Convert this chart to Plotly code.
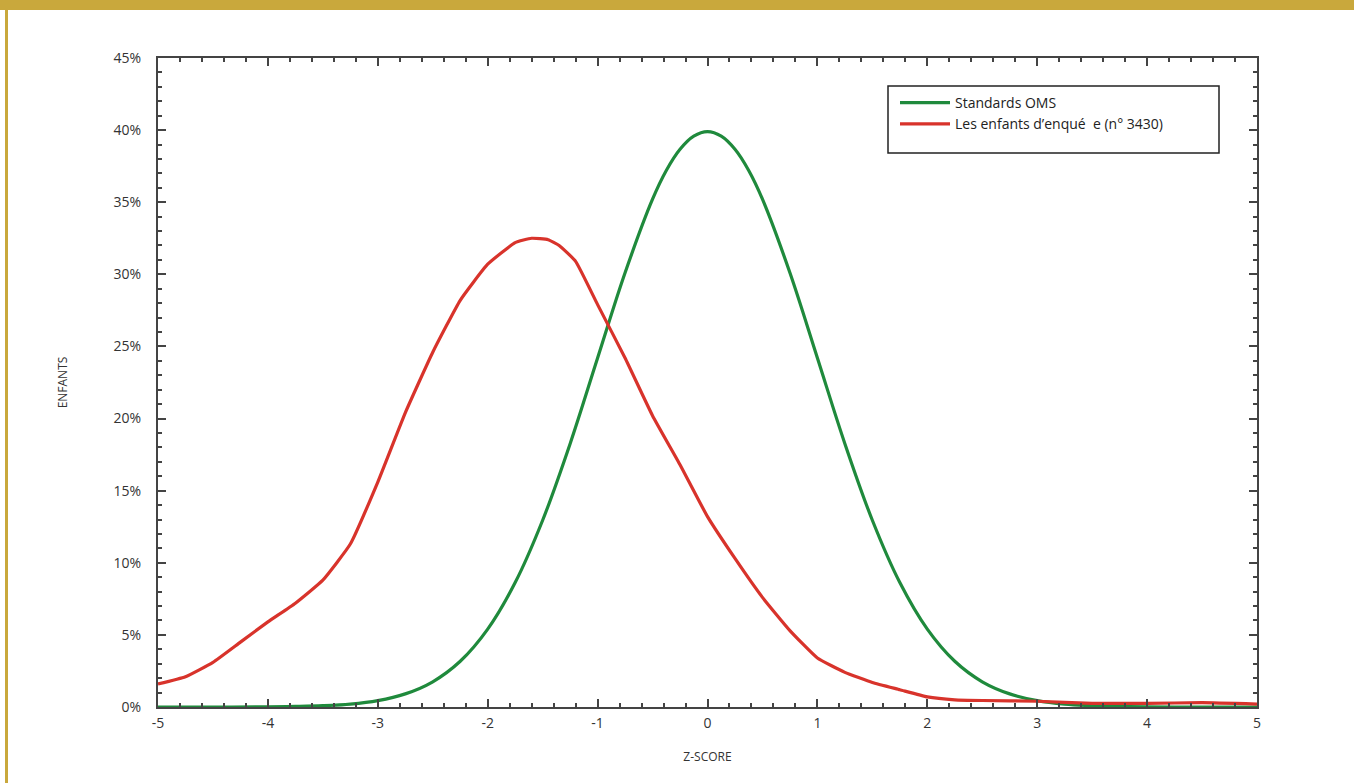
import plotly.graph_objects as go

# Data
z_oms = [-5, -4.5, -4, -3.75, -3.5, -3.25, -3, -2.75, -2.5, -2.25, -2, -1.75, -1.5, -1.25, -1,
         -0.75, -0.5, -0.375, -0.25, -0.125, 0, 0.125, 0.25, 0.375, 0.5, 0.75, 1, 1.25, 1.5,
         1.75, 2, 2.25, 2.5, 2.75, 3, 3.25, 3.5, 4, 4.5, 5]
oms = [0.0, 0.0, 0.01, 0.04, 0.09, 0.2, 0.44, 0.91, 1.75, 3.17, 5.4, 8.63, 12.95, 18.26, 24.2,
       30.11, 35.21, 37.2, 38.67, 39.58, 39.89, 39.58, 38.67, 37.2, 35.21, 30.11, 24.2, 18.26,
       12.95, 8.63, 5.4, 3.17, 1.75, 0.91, 0.44, 0.2, 0.09, 0.01, 0.0, 0.0]

z_enq = [-5, -4.75, -4.5, -4.25, -4, -3.75, -3.5, -3.25, -3, -2.75, -2.5, -2.25, -2, -1.75,
         -1.6, -1.45, -1.35, -1.2, -1, -0.75, -0.5, -0.25, 0, 0.25, 0.5, 0.75, 1, 1.25, 1.5,
         1.75, 2, 2.25, 2.5, 3, 3.5, 4, 4.5, 5]
enq = [1.6, 2.1, 3.1, 4.5, 5.9, 7.2, 8.8, 11.3, 15.6, 20.4, 24.6, 28.2, 30.7, 32.2,
       32.5, 32.4, 32.0, 30.9, 27.9, 24.2, 20.2, 16.8, 13.2, 10.3, 7.6, 5.3, 3.4, 2.4, 1.7,
       1.2, 0.7, 0.5, 0.45, 0.4, 0.25, 0.25, 0.3, 0.2]

names = ["Standards OMS", "Les enfants d’enqué  e (n° 3430)"]
x_ticks = [-5, -4, -3, -2, -1, 0, 1, 2, 3, 4, 5]
y_ticks = [0, 5, 10, 15, 20, 25, 30, 35, 40, 45]
y_labels = [f"{v}%" for v in y_ticks]

W, H = 1354, 783
L, R, T, B = 158, 1257, 58, 707
pw, ph = R - L, B - T

def px(xp):
    return (xp - L) / pw

def py(yp):
    return (B - yp) / ph

font = "Open Sans, Noto Sans, sans-serif"

fig = go.Figure()
fig.add_trace(go.Scatter(x=z_oms, y=oms, mode="lines", name=names[0],
                         line=dict(color="#1f8a3c", width=3.2, shape="spline", smoothing=1.0)))
fig.add_trace(go.Scatter(x=z_enq, y=enq, mode="lines", name=names[1],
                         line=dict(color="#d8332b", width=3.2, shape="spline", smoothing=0.4)))

axis_common = dict(showgrid=False, zeroline=False, showline=True, linecolor="#444",
                   linewidth=2, ticks="inside", tickcolor="#444", tickwidth=2, ticklen=8,
                   mirror="allticks", tickfont=dict(family=font, size=14, color="#333"))

fig.update_xaxes(range=[-5, 5], tickvals=x_ticks, ticktext=[str(v) for v in x_ticks],
                 ticklabelstandoff=2,
                 minor=dict(dtick=0.2, ticks="inside", ticklen=4, tickcolor="#444", tickwidth=1.5),
                 title=dict(text="Z-SCORE", font=dict(family=font, size=12, color="#333"), standoff=22),
                 **axis_common)
fig.update_yaxes(range=[0, 45], tickvals=y_ticks, ticktext=y_labels,
                 ticklabelstandoff=12,
                 minor=dict(dtick=1, ticks="inside", ticklen=4, tickcolor="#444", tickwidth=1.5),
                 title=dict(text="ENFANTS", font=dict(family=font, size=12, color="#333"), standoff=43),
                 **axis_common)

gold = "#c9a83c"
shapes = [
    dict(type="rect", xref="paper", yref="paper", x0=px(0), x1=px(W), y0=py(10), y1=py(0),
         fillcolor=gold, line=dict(width=0), layer="above"),
    dict(type="rect", xref="paper", yref="paper", x0=px(5), x1=px(8), y0=py(H), y1=py(0),
         fillcolor=gold, line=dict(width=0), layer="above"),
    dict(type="rect", xref="paper", yref="paper", x0=px(888), x1=px(1219), y0=py(153), y1=py(86),
         fillcolor="white", line=dict(color="#222", width=1.5), layer="below"),
]

fig.update_layout(
    width=W, height=H,
    margin=dict(l=L, r=W - R, t=T, b=H - B),
    paper_bgcolor="white", plot_bgcolor="white",
    shapes=shapes,
    showlegend=True,
    legend=dict(x=px(895), y=py(87), xanchor="left", yanchor="top",
                bgcolor="rgba(0,0,0,0)", borderwidth=0,
                font=dict(family=font, size=14, color="#222"),
                itemwidth=50, tracegroupgap=0),
    font=dict(family=font),
)

fig.write_html("out.html", config={"displayModeBar": False},
               post_script="document.body.style.margin='0px';document.body.style.overflow='hidden';")
